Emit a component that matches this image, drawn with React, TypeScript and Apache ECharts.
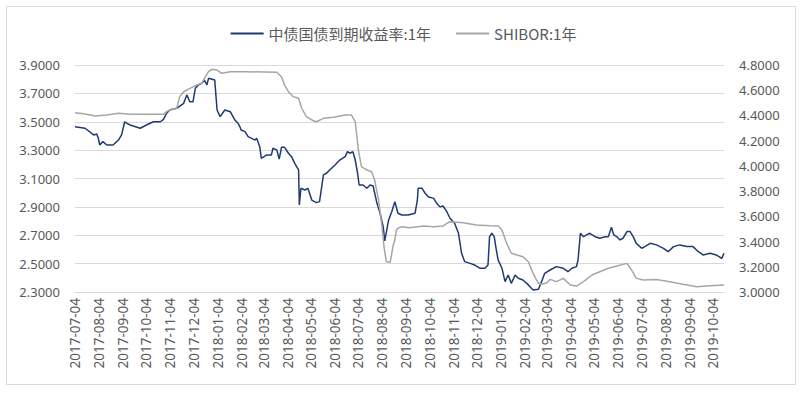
import React, { useEffect, useRef } from "react";
import * as echarts from "echarts";

const START_DATE = "2017-07-04";
const END_DATE = "2019-10-18";

const BOND_NAME = "中债国债到期收益率:1年";
const SHIBOR_NAME = "SHIBOR:1年";

const BOND_DATES = [
  "2017-07-04","2017-07-17","2017-07-28","2017-08-01","2017-08-03","2017-08-05","2017-08-09","2017-08-14","2017-08-22","2017-08-29",
  "2017-09-02","2017-09-06","2017-09-09","2017-09-13","2017-09-26","2017-10-04","2017-10-13","2017-10-22","2017-10-26","2017-10-30",
  "2017-11-03","2017-11-12","2017-11-21","2017-11-25","2017-11-29","2017-12-03","2017-12-06","2017-12-10","2017-12-14","2017-12-18",
  "2017-12-21","2017-12-23","2017-12-31","2018-01-03","2018-01-07","2018-01-13","2018-01-20","2018-01-26","2018-01-30","2018-02-01",
  "2018-02-03","2018-02-08","2018-02-12","2018-02-21","2018-02-23","2018-02-27","2018-03-01","2018-03-08","2018-03-14","2018-03-16",
  "2018-03-21","2018-03-24","2018-03-27","2018-03-31","2018-04-05","2018-04-09","2018-04-13","2018-04-18","2018-04-19","2018-04-21",
  "2018-04-26","2018-04-30","2018-05-05","2018-05-11","2018-05-15","2018-05-20","2018-05-24","2018-05-28","2018-06-04","2018-06-10",
  "2018-06-17","2018-06-20","2018-06-23","2018-06-27","2018-06-30","2018-07-03","2018-07-05","2018-07-10","2018-07-15","2018-07-19",
  "2018-07-23","2018-07-28","2018-08-01","2018-08-05","2018-08-07","2018-08-12","2018-08-16","2018-08-20","2018-08-24","2018-08-29",
  "2018-09-06","2018-09-15","2018-09-18","2018-09-19","2018-09-24","2018-09-28","2018-10-02","2018-10-09","2018-10-13","2018-10-17",
  "2018-10-21","2018-10-26","2018-10-30","2018-11-05","2018-11-10","2018-11-14","2018-11-18","2018-11-25","2018-12-01","2018-12-08",
  "2018-12-14","2018-12-18","2018-12-20","2018-12-23","2018-12-26","2018-12-28","2018-12-31","2019-01-05","2019-01-09","2019-01-13",
  "2019-01-17","2019-01-22","2019-01-26","2019-02-01","2019-02-08","2019-02-14","2019-02-21","2019-02-25","2019-03-01","2019-03-08",
  "2019-03-16","2019-03-25","2019-03-31","2019-04-05","2019-04-11","2019-04-13","2019-04-16","2019-04-20","2019-04-24","2019-04-28",
  "2019-05-05","2019-05-11","2019-05-18","2019-05-22","2019-05-26","2019-05-29","2019-06-02","2019-06-06","2019-06-10","2019-06-15",
  "2019-06-19","2019-06-23","2019-06-27","2019-07-04","2019-07-08","2019-07-15","2019-07-23","2019-08-01","2019-08-07","2019-08-14",
  "2019-08-22","2019-08-31","2019-09-08","2019-09-15","2019-09-21","2019-09-30","2019-10-08","2019-10-15","2019-10-18"
];
const BOND_VALUES = [
  3.465,3.454,3.407,3.414,3.383,3.336,3.36,3.336,3.336,3.371,
  3.407,3.50,3.489,3.477,3.454,3.477,3.50,3.50,3.517,3.56,
  3.583,3.595,3.63,3.689,3.641,3.641,3.736,3.759,3.771,3.79,
  3.76,3.806,3.794,3.583,3.536,3.583,3.571,3.512,3.489,3.47,
  3.442,3.43,3.395,3.371,3.383,3.324,3.242,3.266,3.266,3.313,
  3.30,3.237,3.32,3.32,3.278,3.254,3.207,3.16,2.913,3.031,
  3.019,3.031,2.948,2.93,2.937,3.125,3.137,3.16,3.195,3.23,
  3.254,3.289,3.278,3.289,3.23,3.137,3.054,3.054,3.031,3.054,
  3.047,2.925,2.855,2.76,2.66,2.808,2.866,2.937,2.855,2.843,
  2.843,2.855,2.948,3.031,3.031,2.996,2.972,2.96,2.925,2.90,
  2.906,2.866,2.82,2.784,2.714,2.573,2.514,2.502,2.49,2.467,
  2.467,2.49,2.69,2.714,2.69,2.62,2.526,2.467,2.373,2.42,
  2.361,2.42,2.397,2.385,2.35,2.314,2.319,2.373,2.432,2.455,
  2.479,2.467,2.443,2.467,2.479,2.526,2.714,2.69,2.702,2.714,
  2.69,2.679,2.69,2.69,2.756,2.702,2.69,2.667,2.679,2.726,
  2.726,2.69,2.643,2.608,2.62,2.643,2.632,2.608,2.584,2.62,
  2.632,2.62,2.62,2.584,2.561,2.573,2.561,2.537,2.573
];

const SHIBOR_DATES = [
  "2017-07-04","2017-07-17","2017-07-30","2017-08-14","2017-08-29","2017-09-13","2017-10-04","2017-10-26","2017-10-30","2017-11-03",
  "2017-11-12","2017-11-16","2017-11-21","2017-11-29","2017-12-08","2017-12-14","2017-12-18","2017-12-23","2017-12-27","2018-01-03",
  "2018-01-09","2018-01-20","2018-02-10","2018-03-21","2018-03-27","2018-03-31","2018-04-05","2018-04-11","2018-04-18","2018-04-22",
  "2018-04-28","2018-05-07","2018-05-11","2018-05-20","2018-06-02","2018-06-17","2018-06-25","2018-06-30","2018-07-04","2018-07-08",
  "2018-07-15","2018-07-21","2018-07-25","2018-07-30","2018-08-03","2018-08-06","2018-08-09","2018-08-14","2018-08-18","2018-08-20",
  "2018-08-22","2018-08-24","2018-08-29","2018-09-08","2018-09-26","2018-10-09","2018-10-21","2018-10-26","2018-10-30","2018-11-16",
  "2018-12-03","2018-12-20","2018-12-31","2019-01-05","2019-01-11","2019-01-17","2019-02-01","2019-02-08","2019-02-14","2019-02-21",
  "2019-02-25","2019-03-04","2019-03-08","2019-03-16","2019-03-25","2019-04-03","2019-04-11","2019-04-20","2019-05-01","2019-05-11",
  "2019-05-22","2019-06-02","2019-06-15","2019-06-21","2019-06-27","2019-07-06","2019-07-23","2019-08-09","2019-08-26","2019-09-13",
  "2019-09-30","2019-10-18"
];
const SHIBOR_VALUES = [
  4.422,4.411,4.396,4.404,4.417,4.409,4.409,4.409,4.43,4.443,
  4.457,4.549,4.588,4.615,4.641,4.655,4.695,4.747,4.766,4.76,
  4.734,4.747,4.747,4.742,4.707,4.641,4.588,4.549,4.536,4.457,
  4.39,4.358,4.35,4.377,4.385,4.404,4.404,4.35,4.126,3.994,
  3.967,3.954,3.888,3.729,3.545,3.359,3.24,3.235,3.373,3.412,
  3.492,3.505,3.518,3.51,3.523,3.518,3.523,3.545,3.557,3.549,
  3.531,3.526,3.523,3.492,3.386,3.307,3.28,3.24,3.148,3.069,
  3.061,3.074,3.10,3.082,3.108,3.055,3.047,3.082,3.135,3.161,
  3.188,3.206,3.227,3.174,3.108,3.095,3.10,3.082,3.061,3.042,
  3.05,3.055
];

const LEFT_MIN = 2.3;
const LEFT_MAX = 3.9;
const RIGHT_MIN = 3.0;
const RIGHT_MAX = 4.8;
const STEP = 0.2;

function buildDays(start: string, end: string): string[] {
  const out: string[] = [];
  const d = new Date(start + "T00:00:00Z");
  const e = new Date(end + "T00:00:00Z");
  while (d.getTime() <= e.getTime()) {
    out.push(d.toISOString().slice(0, 10));
    d.setUTCDate(d.getUTCDate() + 1);
  }
  return out;
}

export default function App() {
  const ref = useRef<HTMLDivElement>(null);
  useEffect(() => {
    document.body.style.margin = "0";
    if (!ref.current) return;
    const chart = echarts.init(ref.current, undefined, { renderer: "svg" });
    const days = buildDays(START_DATE, END_DATE);
    const bondData = BOND_DATES.map((d, i) => [d, +(BOND_VALUES[i] - LEFT_MIN).toFixed(4)]);
    const shiborData = SHIBOR_DATES.map((d, i) => [d, SHIBOR_VALUES[i]]);
    const labelStyle = { color: "#595959", fontSize: 13, fontFamily: "Noto Sans" };
    chart.setOption({
      animation: false,
      backgroundColor: "#ffffff",
      graphic: [
        {
          type: "rect",
          shape: { x: 6.5, y: 6.5, width: 789, height: 378 },
          style: { fill: "none", stroke: "#D9D9D9", lineWidth: 1 },
          silent: true,
        },
      ],
      legend: {
        top: 21,
        left: "center",
        icon: "rect",
        itemWidth: 33,
        itemHeight: 2,
        itemGap: 25,
        textStyle: { color: "#595959", fontSize: 15, fontFamily: "Noto Sans CJK SC" },
        data: [BOND_NAME, SHIBOR_NAME],
      },
      grid: { left: 75, right: 83, top: 65, bottom: 104, containLabel: false },
      xAxis: {
        type: "category",
        data: days,
        boundaryGap: false,
        axisLine: { show: true, lineStyle: { color: "#D9D9D9" } },
        axisTick: { show: false },
        splitLine: { show: false },
        axisLabel: {
          ...labelStyle,
          fontSize: 13.5,
          rotate: 90,
          margin: 6,
          interval: (_i: number, v: string) => v.slice(8, 10) === "04",
        },
      },
      yAxis: [
        {
          type: "value",
          min: 0,
          max: +(LEFT_MAX - LEFT_MIN).toFixed(4),
          interval: STEP,
          axisLine: { show: false },
          axisTick: { show: false },
          splitLine: { show: true, lineStyle: { color: "#D9D9D9", width: 1 } },
          axisLabel: {
            ...labelStyle,
            margin: 15,
            formatter: (v: number) => (v + LEFT_MIN).toFixed(4),
          },
        },
        {
          type: "value",
          min: RIGHT_MIN,
          max: RIGHT_MAX,
          interval: STEP,
          axisLine: { show: false },
          axisTick: { show: false },
          splitLine: { show: false },
          axisLabel: {
            ...labelStyle,
            margin: 15,
            formatter: (v: number) => v.toFixed(4),
          },
        },
      ],
      series: [
        {
          name: BOND_NAME,
          type: "line",
          yAxisIndex: 0,
          data: bondData,
          showSymbol: false,
          symbol: "none",
          lineStyle: { color: "#1F3A70", width: 1.5 },
          itemStyle: { color: "#1F3A70" },
          z: 2,
        },
        {
          name: SHIBOR_NAME,
          type: "line",
          yAxisIndex: 1,
          data: shiborData,
          showSymbol: false,
          symbol: "none",
          lineStyle: { color: "#A6A6A6", width: 1.5 },
          itemStyle: { color: "#A6A6A6" },
          z: 3,
        },
      ],
    });
    return () => chart.dispose();
  }, []);
  return (
    <div
      ref={ref}
      style={{ position: "fixed", left: 0, top: 0, width: 807, height: 396, background: "#fff" }}
    />
  );
}
